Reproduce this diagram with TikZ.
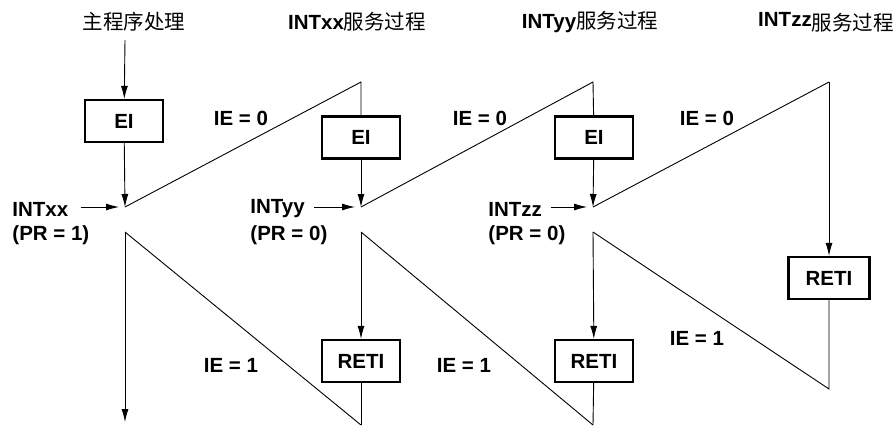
\documentclass[tikz,border=0pt]{standalone}
\usepackage{fontspec}
\setmainfont{Liberation Sans}
\newfontfamily\cjk{Noto Sans CJK SC}
\usetikzlibrary{arrows.meta,positioning}

\begin{document}
\begin{tikzpicture}[x=1pt, y=-1pt, >={Latex[length=13pt,width=7pt]}, line width=0.9pt,
    font=\fontsize{20.5}{24}\selectfont\bfseries,
    regbox/.style={draw, line width=2.2pt, minimum width=78pt, minimum height=42pt, inner sep=0pt},
    lbl/.style={inner sep=0pt}]
    \useasboundingbox (0,0) rectangle (894,426);

    % titles
    \node[lbl] (tm) at (134,22) {{\mdseries\cjk 主程序处理}};
    \node[lbl] (tx) at (357,22) {INTxx{\mdseries\cjk 服务过程}};
    \node[lbl] (ty) at (590,22) {INTyy{\mdseries\cjk 服务过程}};
    \node[lbl] (tz) at (826,22) {INTzz\raisebox{-4pt}{\mdseries\cjk 服务过程}};

    % turning points
    \coordinate (s1) at (125,40);
    \coordinate (a1) at (125,207);
    \coordinate (a2) at (361,207);
    \coordinate (a3) at (593,207);
    \coordinate (d1) at (125,232);
    \coordinate (d2) at (361,232);
    \coordinate (d3) at (593,232);
    \coordinate (t2) at (361,82);
    \coordinate (t3) at (593,82);
    \coordinate (t4) at (829,82);
    \coordinate (b1) at (125,422);
    \coordinate (b2) at (361,425);
    \coordinate (b3) at (593,425);
    \coordinate (b4) at (829,389);

    % boxes
    \node[regbox] (e1) at (124,121) {EI};
    \node[regbox] (e2) at (361,137.5) {EI};
    \node[regbox] (e3) at (594,137.5) {EI};
    \node[regbox] (r2) at (361,361) {RETI};
    \node[regbox] (r3) at (594,361) {RETI};
    \node[regbox, minimum width=81pt] (r4) at (829,278) {RETI};

    % interrupt requests
    \node[lbl, anchor=west] (ix) at (12,209) {INTxx};
    \node[lbl, anchor=west] (px) at (12,235) {(PR = 1)};
    \node[lbl, anchor=west] (iy) at (250,209) {INTyy};
    \node[lbl, anchor=west] (py) at (250,235) {(PR = 0)};
    \node[lbl, anchor=west] (iz) at (488,209) {INTzz};
    \node[lbl, anchor=west] (pz) at (488,235) {(PR = 0)};
    \draw[->, shorten <=12pt, shorten >=6pt] (ix.east |- a1) -- (a1);
    \draw[->, shorten <=9pt, shorten >=6pt] (iy.east |- a2) -- (a2);
    \draw[->, shorten <=9pt, shorten >=6pt] (iz.east |- a3) -- (a3);

    % IE labels
    \node[lbl] (z1) at (241,118) {IE = 0};
    \node[lbl] (z2) at (480,118) {IE = 0};
    \node[lbl] (z3) at (707,118) {IE = 0};
    \node[lbl] (o1) at (231,365) {IE = 1};
    \node[lbl] (o2) at (464,365) {IE = 1};
    \node[lbl] (o3) at (697,338) {IE = 1};

    % flow
    \draw[->] (s1) -- (e1);
    \draw[->] (e1) -- (a1);
    \draw (a1) -- (t2) -- (e2);
    \draw[->] (e2) -- (a2);
    \draw (a2) -- (t3) -- (e3);
    \draw[->] (e3) -- (a3);
    \draw (a3) -- (t4);
    \draw[->] (t4) -- (r4);

    \draw[->] (d1) -- (b1);
    \draw (d1) -- (b2);
    \draw[->] (d2) -- (r2);
    \draw (r2) -- (b2);
    \draw (d2) -- (b3);
    \draw[->] (d3) -- (r3);
    \draw (r3) -- (b3);
    \draw (d3) -- (b4) -- (r4);
\end{tikzpicture}
\end{document}
